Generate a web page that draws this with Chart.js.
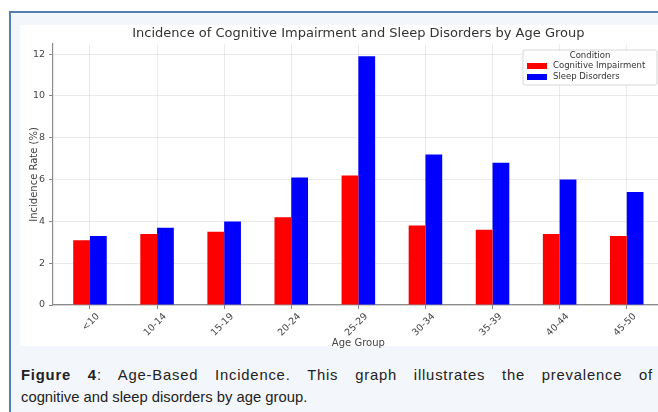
<!DOCTYPE html>
<html>
<head>
<meta charset="utf-8">
<script src="https://cdn.jsdelivr.net/npm/chart.js@4/dist/chart.umd.min.js"></script>
<style>
  html, body { margin: 0; padding: 0; width: 658px; height: 412px; overflow: hidden; background: #fff; }
  #frame { position: absolute; left: 9px; top: 11px; width: 700px; height: 420px;
           background: #f3f7fb; border-left: 2px solid #5580ae; border-top: 2px solid #5580ae; }
  #panel { position: absolute; left: 20px; top: 25px; width: 660px; height: 321px; background: #fff; }
  #wrap { position: absolute; left: 20px; top: 25px; width: 700px; height: 330px; }
  #caption { position: absolute; left: 21px; top: 364px; width: 632px;
             font-family: "Liberation Sans", Arial, sans-serif; font-size: 14.8px; line-height: 22px;
             color: #222; }
  #caption .l1 { text-align: justify; text-align-last: justify; white-space: nowrap; letter-spacing: 0.8px; }
</style>
</head>
<body>
<div id="frame"></div>
<div id="panel"></div>
<div id="wrap"><canvas id="c" width="700" height="330"></canvas></div>
<div id="caption">
  <div class="l1"><b>Figure 4</b>: Age-Based Incidence. This graph illustrates the prevalence of</div>
  <div>cognitive and sleep disorders by age group.</div>
</div>
<script>
// Age groups and incidence rates (%)
const ageGroups = ['<10', '10-14', '15-19', '20-24', '25-29', '30-34', '35-39', '40-44', '45-50'];
const cognitiveImpairment = [3.1, 3.4, 3.5, 4.2, 6.2, 3.8, 3.6, 3.4, 3.3];
const sleepDisorders = [3.3, 3.7, 4.0, 6.1, 11.9, 7.2, 6.8, 6.0, 5.4];
const yTicks = [0, 2, 4, 6, 8, 10, 12];
const seriesNames = ['Cognitive Impairment', 'Sleep Disorders'];
const legendTitle = 'Condition';

const FONT = "'DejaVu Sans', sans-serif";

// Boxed legend in the upper right corner of the plot
const boxedLegend = {
  id: 'boxedLegend',
  afterDraw(chart) {
    const ctx = chart.ctx;
    const x = 503, y = 25, w = 134, h = 35;
    ctx.save();
    ctx.beginPath();
    ctx.roundRect(x, y, w, h, 2);
    ctx.fillStyle = 'rgba(255,255,255,0.85)';
    ctx.fill();
    ctx.strokeStyle = '#d6d6d6';
    ctx.lineWidth = 1;
    ctx.stroke();
    ctx.font = '8.5px ' + FONT;
    ctx.fillStyle = '#333';
    ctx.textBaseline = 'middle';
    ctx.textAlign = 'center';
    ctx.fillText(legendTitle, x + w / 2, y + 6);
    ctx.textAlign = 'left';
    chart.data.datasets.forEach((ds, i) => {
      const ry = y + 16 + i * 11;
      ctx.fillStyle = ds.backgroundColor;
      ctx.fillRect(x + 4, ry - 3, 20, 6);
      ctx.fillStyle = '#333';
      ctx.fillText(ds.label, x + 30, ry);
    });
    ctx.restore();
  }
};

new Chart(document.getElementById('c'), {
  type: 'bar',
  data: {
    datasets: [
      { label: seriesNames[0], data: ageGroups.map((g, i) => ({ x: i, y: cognitiveImpairment[i] })),
        backgroundColor: '#ff0000', borderWidth: 0 },
      { label: seriesNames[1], data: ageGroups.map((g, i) => ({ x: i, y: sleepDisorders[i] })),
        backgroundColor: '#0000ff', borderWidth: 0 }
    ]
  },
  options: {
    responsive: false,
    animation: false,
    events: [],
    categoryPercentage: 0.5,
    barPercentage: 1.0,
    layout: { padding: { top: 0, right: 56.3, bottom: 0, left: 0 } },
    plugins: {
      legend: { display: false },
      tooltip: { enabled: false },
      title: {
        display: true,
        fullSize: false,
        text: 'Incidence of Cognitive Impairment and Sleep Disorders by Age Group',
        color: '#333',
        font: { family: FONT, size: 13, weight: 'normal' },
        padding: { top: 1, bottom: 2.2 }
      }
    },
    scales: {
      x: {
        type: 'linear',
        min: -0.551,
        max: 8.551,
        offset: false,
        afterBuildTicks: s => { s.ticks = ageGroups.map((g, i) => ({ value: i })); },
        afterFit: s => { s.height = 50; s.paddingLeft = 0; s.paddingRight = 0; },
        grid: { offset: false, color: 'rgba(0,0,0,0.08)', lineWidth: 1, tickLength: 4, tickColor: '#888' },
        border: { display: true, color: '#8c8c8c', width: 1.2 },
        ticks: {
          autoSkip: false, minRotation: 45, maxRotation: 45, padding: 2, labelOffset: 8,
          color: '#444', font: { family: FONT, size: 9.5 },
          callback: v => ageGroups[v]
        },
        title: { display: true, text: 'Age Group', color: '#444',
                 font: { family: FONT, size: 10 }, padding: { top: 0, bottom: 6 } }
      },
      y: {
        min: 0,
        max: 12.495,
        afterBuildTicks: s => { s.ticks = yTicks.map(v => ({ value: v })); },
        afterFit: s => { s.width = 33; s.paddingTop = 0; s.paddingBottom = 0; },
        grid: { color: 'rgba(0,0,0,0.08)', lineWidth: 1, tickLength: 4, tickColor: '#888' },
        border: { display: true, color: '#8c8c8c', width: 1.2 },
        ticks: { padding: 4, color: '#444', font: { family: FONT, size: 9.5 } },
        title: { display: true, text: 'Incidence Rate (%)', color: '#444',
                 font: { family: FONT, size: 10 }, padding: { top: 8, bottom: 0 } }
      }
    }
  },
  plugins: [boxedLegend]
});
</script>
</body>
</html>
